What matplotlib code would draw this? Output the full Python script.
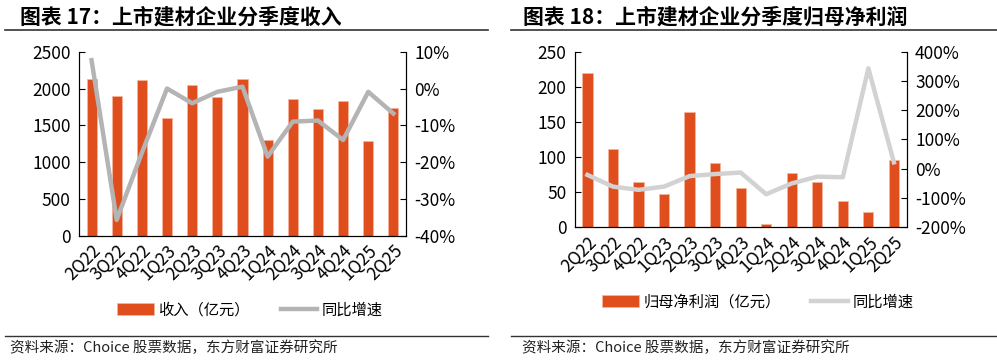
import matplotlib
matplotlib.use("Agg")
import matplotlib.pyplot as plt
import numpy as np
from matplotlib.lines import Line2D
from matplotlib.ticker import FuncFormatter

plt.rcParams['font.family'] = ['Noto Sans CJK SC', 'DejaVu Sans']

quarters = ['2Q22', '3Q22', '4Q22', '1Q23', '2Q23', '3Q23', '4Q23',
            '1Q24', '2Q24', '3Q24', '4Q24', '1Q25', '2Q25']

# 收入（亿元）与同比增速
revenue = [2129, 1902, 2120, 1594, 2047, 1889, 2129, 1295, 1857, 1721, 1830, 1286, 1730]
revenue_yoy = [7.7, -35.7, -17.5, 0.0, -4.0, -0.9, 0.5, -18.5, -9.0, -8.7, -14.0, -0.9, -6.8]

# 归母净利润（亿元）与同比增速
profit = [220, 111.5, 64, 47, 164.6, 91.6, 55.5, 4.7, 77.8, 64, 37, 22.3, 95.8]
profit_yoy = [-21, -61, -72, -61, -25, -18, -13, -87, -50, -27, -29, 343, 22]

BAR = '#E04E1E'
EDGE = '#F4B49C'

fig = plt.figure(figsize=(9.97, 3.6), dpi=100)


def panel(rect, bars, yoy, ylim, yticks, y2lim, y2ticks, line_color, bar_label, leg_y, leg_x):
    ax = fig.add_axes(rect)
    x = np.arange(len(quarters))
    ax.bar(x, bars, width=0.4, color=BAR, edgecolor=EDGE, linewidth=0.6, label=bar_label, zorder=2)
    ax.set_xlim(-0.5, len(quarters) - 0.5)
    ax.set_ylim(*ylim)
    ax.set_yticks(yticks)
    ax.set_xticks(x)
    ax.set_xticklabels(quarters, rotation=45, ha='right', rotation_mode='anchor')
    ax.tick_params(axis='x', length=0, labelsize=12.5, pad=4)
    ax.tick_params(axis='y', direction='in', length=4, labelsize=12.5, pad=6)
    ax.spines['top'].set_visible(False)

    ax2 = ax.twinx()
    ax2.plot(x, yoy, color=line_color, linewidth=3.2, label='同比增速', zorder=3)
    ax2.set_ylim(*y2lim)
    ax2.set_yticks(y2ticks)
    ax2.yaxis.set_major_formatter(FuncFormatter(lambda v, p: '%d%%' % v))
    ax2.tick_params(axis='y', direction='in', length=4, labelsize=12.5, pad=6)
    ax2.spines['top'].set_visible(False)

    h1, l1 = ax.get_legend_handles_labels()
    h2, l2 = ax2.get_legend_handles_labels()
    fig.legend(h1 + h2, l1 + l2, loc='center', bbox_to_anchor=(leg_x, leg_y), ncol=2,
               frameon=False, fontsize=11, handlelength=2.4, handleheight=0.8,
               columnspacing=2.0, handletextpad=0.3)
    return ax


panel([0.0792, 0.3453, 0.328, 0.511], revenue, revenue_yoy, (0, 2500),
      [0, 500, 1000, 1500, 2000, 2500], (-40, 10), [-40, -30, -20, -10, 0, 10],
      '#B4B4B4', '收入（亿元）', 1 - 310 / 360, 250 / 997)

panel([0.5764, 0.3686, 0.333, 0.4878], profit, profit_yoy, (0, 250),
      [0, 50, 100, 150, 200, 250], (-200, 400), [-200, -100, 0, 100, 200, 300, 400],
      '#D2D2D2', '归母净利润（亿元）', 1 - 302 / 360, 758 / 997)

# titles, rules and source lines
fig.text(20 / 997, 1 - 17 / 360, '图表 17：上市建材企业分季度收入', fontsize=15,
         fontweight='bold', va='center', ha='left')
fig.text(523 / 997, 1 - 17 / 360, '图表 18：上市建材企业分季度归母净利润', fontsize=15,
         fontweight='bold', va='center', ha='left')
for x0, x1 in [(5, 488), (511, 997)]:
    fig.add_artist(Line2D([x0 / 997, x1 / 997], [1 - 29.5 / 360] * 2, color='#333333', linewidth=1.2))
    fig.add_artist(Line2D([x0 / 997, x1 / 997], [1 - 336 / 360] * 2, color='#333333', linewidth=1.0))
fig.text(10 / 997, 1 - 348 / 360, '资料来源：Choice 股票数据，东方财富证券研究所', fontsize=10.5,
         va='center', ha='left', color='#222222')
fig.text(522 / 997, 1 - 348 / 360, '资料来源：Choice 股票数据，东方财富证券研究所', fontsize=10.5,
         va='center', ha='left', color='#222222')

fig.savefig('out.png', dpi=100)
